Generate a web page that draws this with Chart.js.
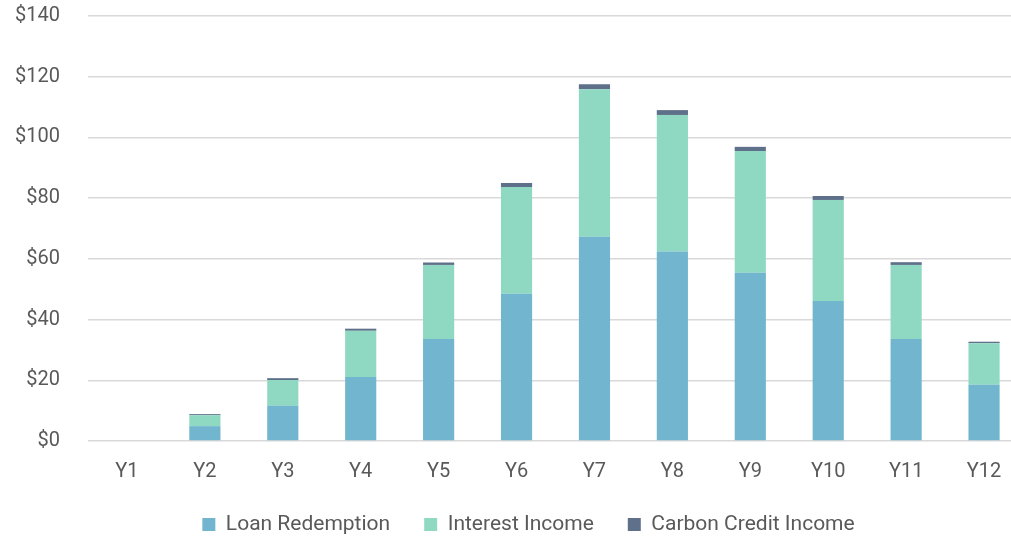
<!DOCTYPE html>
<html>
<head>
<meta charset="utf-8">
<script src="https://cdn.jsdelivr.net/npm/chart.js@4"></script>
<style>
  html, body { margin: 0; padding: 0; background: #ffffff; overflow: hidden; }
  #wrap { width: 1056px; height: 536px; }
</style>
</head>
<body>
<div id="wrap"><canvas id="chart" width="1056" height="536"></canvas></div>
<script>
// categorie e valori
const years = ['Y1', 'Y2', 'Y3', 'Y4', 'Y5', 'Y6', 'Y7', 'Y8', 'Y9', 'Y10', 'Y11', 'Y12'];
const loanRedemption = [0, 4.9, 11.6, 21.1, 33.6, 48.5, 67.3, 62.4, 55.4, 46.1, 33.6, 18.5];
const interestIncome = [0, 3.6, 8.5, 15.2, 24.4, 35.2, 48.6, 45.0, 40.1, 33.3, 24.4, 13.7];
const carbonCreditIncome = [0, 0.35, 0.6, 0.7, 0.8, 1.3, 1.6, 1.6, 1.4, 1.3, 0.9, 0.5];
const yTicks = [0, 20, 40, 60, 80, 100, 120, 140];

const textColor = '#595959';
const gridColor = '#d9d9d9';

// sposta la legenda verso destra, come nell'originale
const legendShift = {
    id: 'legendShift',
    afterLayout(chart) {
        if (chart.legend) {
            chart.legend.left += 17;
            chart.legend.right += 17;
        }
    }
};

const ctx = document.getElementById('chart').getContext('2d');
new Chart(ctx, {
    type: 'bar',
    data: {
        labels: years,
        datasets: [
            { label: 'Loan Redemption', data: loanRedemption, backgroundColor: '#72b5cf' },
            { label: 'Interest Income', data: interestIncome, backgroundColor: '#8fd8c2' },
            { label: 'Carbon Credit Income', data: carbonCreditIncome, backgroundColor: '#5e708a' }
        ]
    },
    plugins: [legendShift],
    options: {
        responsive: false,
        animation: false,
        layout: { padding: { top: 0, right: 33, bottom: -9, left: 0 } },
        datasets: { bar: { categoryPercentage: 1, barPercentage: 0.4 } },
        plugins: {
            tooltip: { enabled: false },
            legend: {
                position: 'bottom',
                labels: {
                    color: textColor,
                    font: { family: 'Roboto', size: 21 },
                    boxWidth: 13,
                    boxHeight: 13,
                    padding: 34
                }
            }
        },
        scales: {
            x: {
                stacked: true,
                afterFit: (scale) => { scale.height = 39; },
                grid: { display: false },
                border: { display: false },
                ticks: { color: textColor, font: { family: 'Roboto', size: 20 }, padding: 11 }
            },
            y: {
                stacked: true,
                min: 0,
                max: 140,
                afterFit: (scale) => {
                    scale.width = 88;
                    scale.paddingTop = 16;
                    scale.paddingBottom = 0;
                },
                afterBuildTicks: (scale) => { scale.ticks = yTicks.map(v => ({ value: v })); },
                grid: { color: gridColor, lineWidth: 1.5, drawTicks: false },
                border: { display: false },
                ticks: {
                    color: textColor,
                    font: { family: 'Roboto', size: 20 },
                    padding: 28,
                    callback: (v) => '$' + v
                }
            }
        }
    }
});
</script>
</body>
</html>
